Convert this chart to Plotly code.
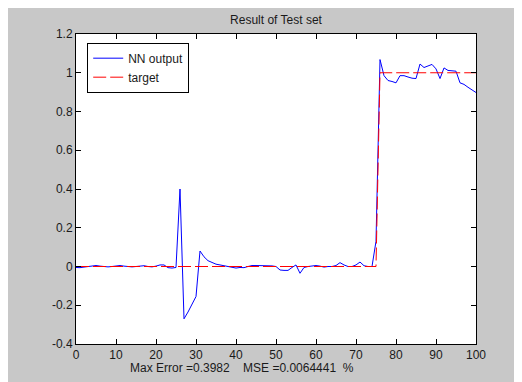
import plotly.graph_objects as go

x_vals = list(range(0, 101))

nn_output = [
    -0.005, -0.006, -0.003, 0.000, 0.003, 0.005, 0.002, 0.000, -0.002, 0.000,
    0.003, 0.005, 0.002, 0.000, -0.002, 0.000, 0.003, 0.004, 0.000, -0.002,
    0.002, 0.008, 0.008, -0.006, -0.008, -0.005, 0.400, -0.270, -0.235, -0.195,
    -0.155, 0.080, 0.050, 0.030, 0.020, 0.012, 0.008, 0.004, 0.000, -0.006,
    -0.008, -0.005, -0.006, 0.000, 0.005, 0.005, 0.005, 0.005, 0.005, 0.003,
    0.000, -0.018, -0.020, -0.020, -0.005, 0.008, -0.035, -0.005, 0.000, 0.003,
    0.005, 0.002, -0.003, 0.000, 0.000, 0.005, 0.020, 0.008, 0.000, 0.000,
    0.008, 0.023, 0.004, 0.000, 0.000, 0.130, 1.068, 0.985, 0.960, 0.955,
    0.948, 0.985, 0.985, 0.978, 0.972, 0.970, 1.045, 1.027, 1.035, 1.043,
    1.020, 0.970, 1.025, 1.012, 1.010, 1.008, 0.948, 0.940, 0.925, 0.912,
    0.898,
]

target = [0.0] * 76 + [1.0] * 25

x_tick_vals = [0, 10, 20, 30, 40, 50, 60, 70, 80, 90, 100]
x_tick_text = ["0", "10", "20", "30", "40", "50", "60", "70", "80", "90", "100"]
y_tick_vals = [-0.4, -0.2, 0, 0.2, 0.4, 0.6, 0.8, 1.0, 1.2]
y_tick_text = ["-0.4", "-0.2", "0", "0.2", "0.4", "0.6", "0.8", "1", "1.2"]

title_text = "Result of Test set"
xlabel_text = "Max Error =0.3982\u00a0\u00a0\u00a0\u00a0MSE =0.0064441\u00a0\u00a0%"

FONT = "Arial, Liberation Sans, sans-serif"
GRAY = "rgb(200,200,200)"
TXT = "#1a1a1a"

fig = go.Figure()
fig.add_trace(go.Scatter(
    x=x_vals, y=nn_output, mode="lines", name="NN output",
    line=dict(color="rgb(0,0,255)", width=1),
))
fig.add_trace(go.Scatter(
    x=x_vals, y=target, mode="lines", name="target",
    line=dict(color="rgb(255,0,0)", width=1, dash="13px,4px"),
))

axis_common = dict(
    showgrid=False, zeroline=False, showline=True, linecolor="black",
    linewidth=1, mirror="ticks", ticks="inside", ticklen=5, tickcolor="black",
    tickfont=dict(family=FONT, size=12, color=TXT),
)

fig.update_xaxes(range=[0, 100], tickmode="array", tickvals=x_tick_vals,
                 ticktext=x_tick_text, **axis_common)
fig.update_yaxes(range=[-0.4, 1.2], tickmode="array", tickvals=y_tick_vals,
                 ticktext=y_tick_text, **axis_common)

# page body adds an 8px offset; figure sized so the plot area lands where the reference has it
fig.update_layout(
    width=514, height=374,
    margin=dict(l=68, r=46, t=26, b=38, pad=0),
    paper_bgcolor=GRAY, plot_bgcolor="white",
    font=dict(family=FONT, size=12, color=TXT),
    title=dict(text=title_text, x=0.5, xref="paper", xanchor="center",
               y=1 - 12 / 374, yanchor="middle", yref="container",
               font=dict(family=FONT, size=12, color=TXT)),
    showlegend=True,
    legend=dict(x=0.028, y=0.972, xanchor="left", yanchor="top",
                bgcolor="white", bordercolor="black", borderwidth=1,
                font=dict(family=FONT, size=12, color=TXT),
                itemwidth=30, tracegroupgap=0),
    annotations=[dict(text=xlabel_text, xref="paper", yref="paper",
                      x=(241.5 - 76) / 400, y=(344 - 368) / 310,
                      xanchor="center", yanchor="middle", showarrow=False,
                      font=dict(family=FONT, size=12, color=TXT))],
)

fig.write_html("out.html")
